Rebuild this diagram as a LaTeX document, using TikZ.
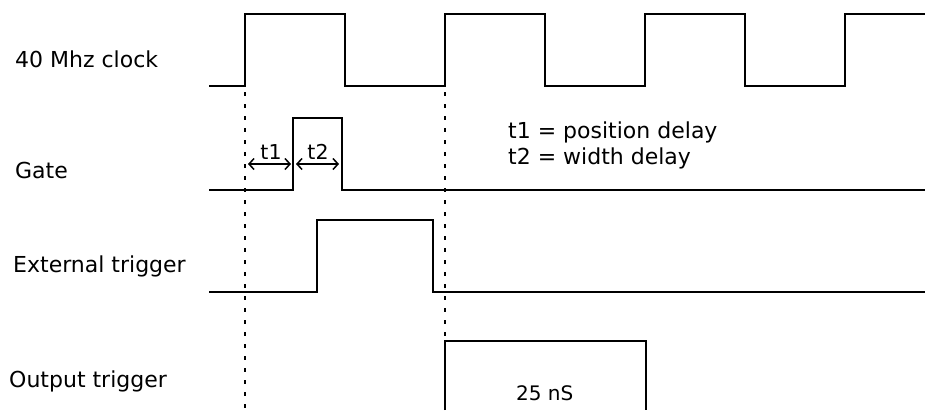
\documentclass[tikz,border=0pt]{standalone}
\usepackage{fontspec}
\setmainfont{DejaVu Sans}
\usetikzlibrary{arrows.meta}
\begin{document}
\begin{tikzpicture}[x=1pt,y=-1pt,
  sig/.style={line width=2pt, line join=miter},
  guide/.style={line width=2pt, dash pattern=on 4pt off 8pt},
  lbl/.style={anchor=base west, inner sep=0pt, font=\fontsize{22}{26}\selectfont},
  small/.style={anchor=base, inner sep=0pt, font=\fontsize{20.5}{24}\selectfont},
  note/.style={anchor=base west, inner sep=0pt, font=\fontsize{20}{24}\selectfont},
  dim/.style={line width=1.5pt, {Straight Barb[length=5pt,width=11pt]}-{Straight Barb[length=5pt,width=11pt]}}]
\useasboundingbox (0,0) rectangle (925,410);
\fill[white] (0,0) rectangle (925,410);
% labels
\node[lbl] (lclk) at (15,67) {40 Mhz clock};
\node[lbl] (lgate) at (15,178) {Gate};
\node[lbl] (lext) at (13,272) {External trigger};
\node[lbl] (lout) at (9,387) {Output trigger};
% legend
\node[lbl] (leg1) at (508,138) {t1 = position delay};
\node[lbl] (leg2) at (508,164) {t2 = width delay};
% clock
\draw[sig] (209,86) -- (245,86) -- (245,14) -- (345,14) -- (345,86) -- (445,86) -- (445,14) -- (545,14) -- (545,86) -- (645,86) -- (645,14) -- (745,14) -- (745,86) -- (845,86) -- (845,14) -- (925,14);
% gate
\draw[sig] (209,190) -- (293,190) -- (293,118) -- (342,118) -- (342,190) -- (925,190);
% external trigger
\draw[sig] (209,292) -- (317,292) -- (317,220) -- (433,220) -- (433,292) -- (925,292);
% output trigger
\draw[sig] (445,410) -- (445,341) -- (646,341) -- (646,410);
\node[note] (lns) at (516,400) {25 nS};
% guides
\coordinate (g1a) at (245,92);
\coordinate (g1b) at (245,410);
\coordinate (g2a) at (445,92);
\coordinate (g2b) at (445,337);
\draw[guide] (g1a) -- (g1b);
\draw[guide] (g2a) -- (g2b);
% delays
\coordinate (d1a) at (248,164);
\coordinate (d1b) at (291,164);
\coordinate (d2a) at (296,164);
\coordinate (d2b) at (339,164);
\draw[dim] (d1a) -- (d1b);
\draw[dim] (d2a) -- (d2b);
\node[small] (lt1) at (271,159) {t1};
\node[small] (lt2) at (318,159) {t2};
\end{tikzpicture}
\end{document}
